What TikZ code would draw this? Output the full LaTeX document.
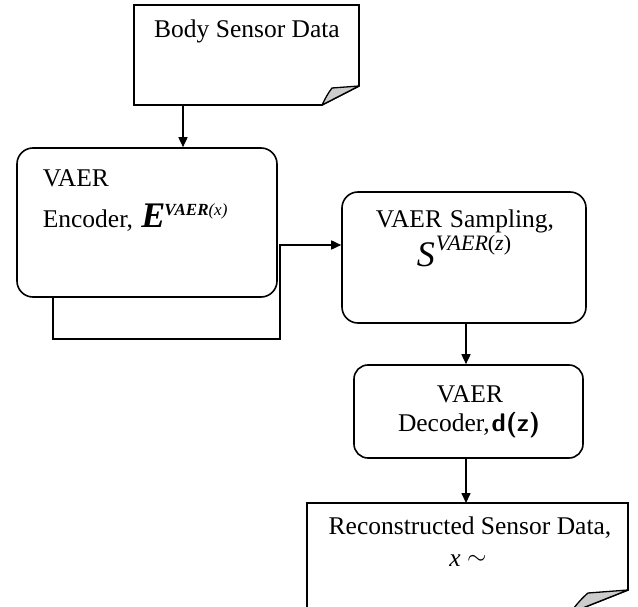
\documentclass[tikz,border=0pt]{standalone}
\usepackage{fontspec}
\setmainfont{Liberation Serif}
\usetikzlibrary{arrows.meta}
\begin{document}
\begin{tikzpicture}[x=1pt,y=-1pt,
  line width=1.6pt,
  arr/.style={-{Triangle[length=10pt,width=9pt]}},
  procbox/.style={draw, rounded corners=16pt, inner sep=0pt},
  anchorbox/.style={inner sep=0pt, outer sep=0pt},
  lbl/.style={font=\fontsize{25.5}{28}\selectfont, inner sep=0pt},
  fold/.style={fill=gray!40, line width=1.3pt, line join=round}
]
\useasboundingbox (0,0) rectangle (638,607);
\begin{scope}
\clip (0,0) rectangle (638,607);
% source document
\node[anchorbox, minimum width=225pt, minimum height=100pt] (src) at (246.5,55) {};
\draw[line join=miter] (src.north west) -- (src.north east) -- (359,86) -- (322,105) -- (src.south west) -- cycle;
\draw[fold] (359,86) -- (332,88) .. controls (328,93) and (325,99) .. (322,105) -- cycle;
\node[lbl] (srct) at (247,31) {Body Sensor Data};

% encoder
\node[procbox, minimum width=260pt, minimum height=149pt] (enc) at (147,222.5) {};
\node[lbl, anchor=base west] (enct1) at (42,187) {VAER};
\node[lbl, anchor=base west] (enct2) at (42,228) {Encoder, \hspace{2pt}{\fontsize{36}{36}\selectfont\bfseries\itshape E}\hspace{-1pt}\raisebox{13pt}{\fontsize{17}{17}\selectfont\bfseries\itshape VAER\mdseries(x)}};

% sampling
\node[procbox, minimum width=244pt, minimum height=131pt] (samp) at (464,257.5) {};
\node[lbl] (sampt1) at (465,221) {VAER\hspace{8pt}Sampling,};
\node[lbl, anchor=base west] (sampt2) at (416,266) {{\fontsize{36}{36}\selectfont\itshape S}\hspace{1pt}\raisebox{16pt}{\fontsize{22}{22}\selectfont\itshape VAER\upshape(\itshape z\upshape)}};

% decoder
\node[procbox, rounded corners=14pt, minimum width=229pt, minimum height=93pt] (dec) at (468.5,411.5) {};
\node[lbl] (dect1) at (470,394) {VAER};
\node[lbl] (dect2) at (469,425) {Decoder,\hspace{2pt}\textsf{\bfseries d(z)}};

% output document
\node[anchorbox, minimum width=321pt, minimum height=110pt] (out) at (467.5,558) {};
\draw[line join=miter] (out.south west) -- (out.north west) -- (out.north east) -- (628,590) -- (570,613);
\draw[fold] (628,590) -- (588,593) .. controls (582,598) and (576,605) .. (570,613) -- cycle;
\node[lbl] (outt1) at (470,528) {Reconstructed Sensor Data,};
\node[lbl, anchor=base] (outt2) at (468,566) {\itshape x\upshape\ {\raisebox{2pt}{$\sim$}}};

% connectors
\coordinate (c1) at (183,0);
\draw[arr] (src.south -| c1) -- (enc.north -| c1);
\coordinate (c2) at (53,339);
\coordinate (c3) at (280,245);
\draw[arr] (enc.south -| c2) -- (c2) -- (c2 -| c3) -- (c3) -- (samp.west |- c3);
\coordinate (c4) at (466,0);
\draw[arr] (samp.south -| c4) -- (dec.north -| c4);
\draw[arr] (dec.south -| c4) -- (out.north -| c4);
\end{scope}
\end{tikzpicture}
\end{document}
